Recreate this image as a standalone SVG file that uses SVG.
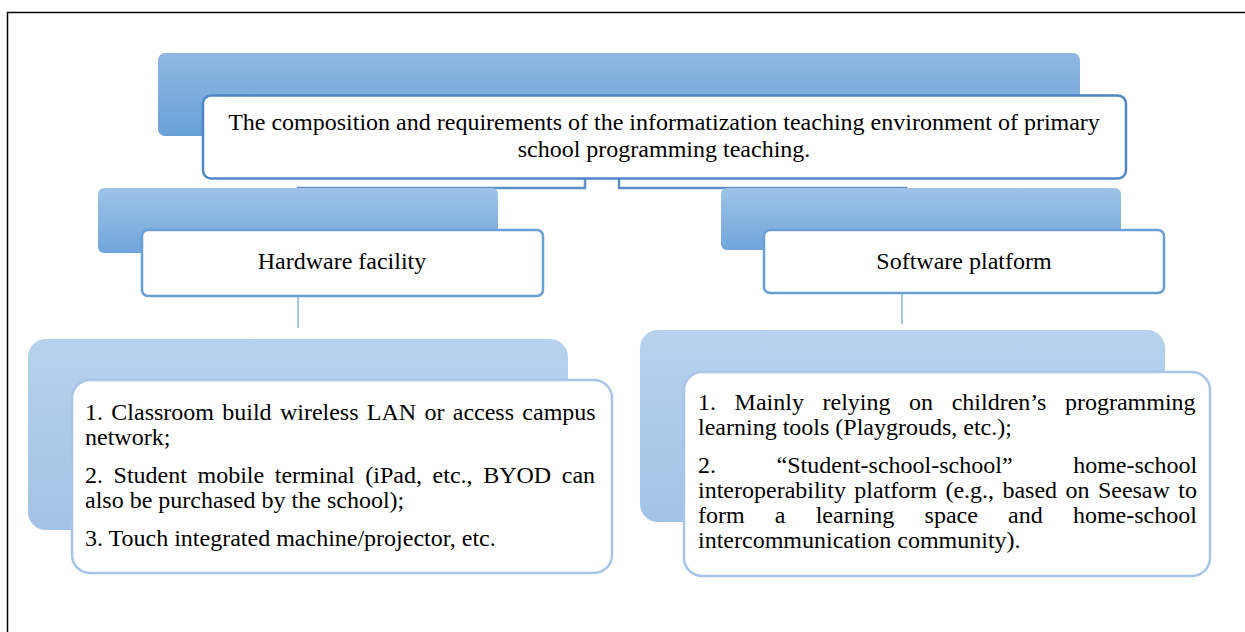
<svg xmlns="http://www.w3.org/2000/svg" width="1245" height="632" viewBox="0 0 1245 632">
<style>
text{font-family:"Liberation Serif","Times New Roman",serif;fill:#000;font-size:24px}
.box1{fill:#fff;stroke:#4f87c6;stroke-width:2.5}
.box2{fill:#fff;stroke:#6b9fd8;stroke-width:2.5}
.box3{fill:#fff;stroke:#a8c5e8;stroke-width:2.5}
.c1{fill:none;stroke:#5f8fc8;stroke-width:2.5}
.c2{fill:none;stroke:#a8c5e8;stroke-width:2}
</style>
<defs>
<linearGradient id="g1" x1="0" y1="0" x2="0" y2="1"><stop offset="0" stop-color="#8fb8e3"/><stop offset="1" stop-color="#68a1d6"/></linearGradient>
<linearGradient id="g2" x1="0" y1="0" x2="0" y2="1"><stop offset="0" stop-color="#9fc3e7"/><stop offset="1" stop-color="#6fa6da"/></linearGradient>
<linearGradient id="g3" x1="0" y1="0" x2="0" y2="1"><stop offset="0" stop-color="#b6d2ed"/><stop offset="1" stop-color="#a2c3e6"/></linearGradient>
</defs>
<rect x="7.5" y="12.5" width="1260" height="640" fill="#fff" stroke="#000" stroke-width="1.5"/>
<g id="connectors">
<path class="c1" d="M585,179 V188 H298 V221"/>
<path class="c1" d="M619,179 V188 H906 V221"/>
<path class="c2" d="M298,297 V328"/>
<path class="c2" d="M902,293 V324"/>
</g>
<g id="root">
<rect x="158" y="53" width="922" height="83" rx="7" fill="url(#g1)"/>
<rect class="box1" x="203" y="95.5" width="923" height="83" rx="8"/>
<text x="664" y="130" text-anchor="middle">The composition and requirements of the informatization teaching environment of primary</text>
<text x="664" y="157" text-anchor="middle">school programming teaching.</text>
</g>
<g id="hardware">
<rect x="98" y="188" width="400" height="65" rx="6" fill="url(#g2)"/>
<rect class="box2" x="142" y="230" width="401" height="66" rx="6"/>
<text x="342" y="269" text-anchor="middle">Hardware facility</text>
</g>
<g id="software">
<rect x="721" y="188" width="400" height="62" rx="6" fill="url(#g2)"/>
<rect class="box2" x="764" y="230" width="400" height="63" rx="6"/>
<text x="964" y="269" text-anchor="middle">Software platform</text>
</g>
<g id="hardware-detail">
<rect x="28" y="339" width="540" height="191" rx="18" fill="url(#g3)"/>
<rect class="box3" x="72" y="380" width="540" height="193" rx="18"/>
<text x="85" y="420" word-spacing="2.3">1. Classroom build wireless LAN or access campus</text>
<text x="85" y="445">network;</text>
<text x="85" y="483" word-spacing="4.6">2. Student mobile terminal (iPad, etc., BYOD can</text>
<text x="85" y="508">also be purchased by the school);</text>
<text x="85" y="546">3. Touch integrated machine/projector, etc.</text>
</g>
<g id="software-detail">
<rect x="640" y="330" width="525" height="192" rx="18" fill="url(#g3)"/>
<rect class="box3" x="684" y="372" width="526" height="204" rx="18"/>
<text x="698" y="410" word-spacing="12.6">1. Mainly relying on children’s programming</text>
<text x="698" y="435">learning tools (Playgrouds, etc.);</text>
<text x="698" y="473" word-spacing="54.6">2. “Student-school-school” home-school</text>
<text x="698" y="498" word-spacing="2.4">interoperability platform (e.g., based on Seesaw to</text>
<text x="698" y="523" word-spacing="24.2">form a learning space and home-school</text>
<text x="698" y="548">intercommunication community).</text>
</g>
</svg>
